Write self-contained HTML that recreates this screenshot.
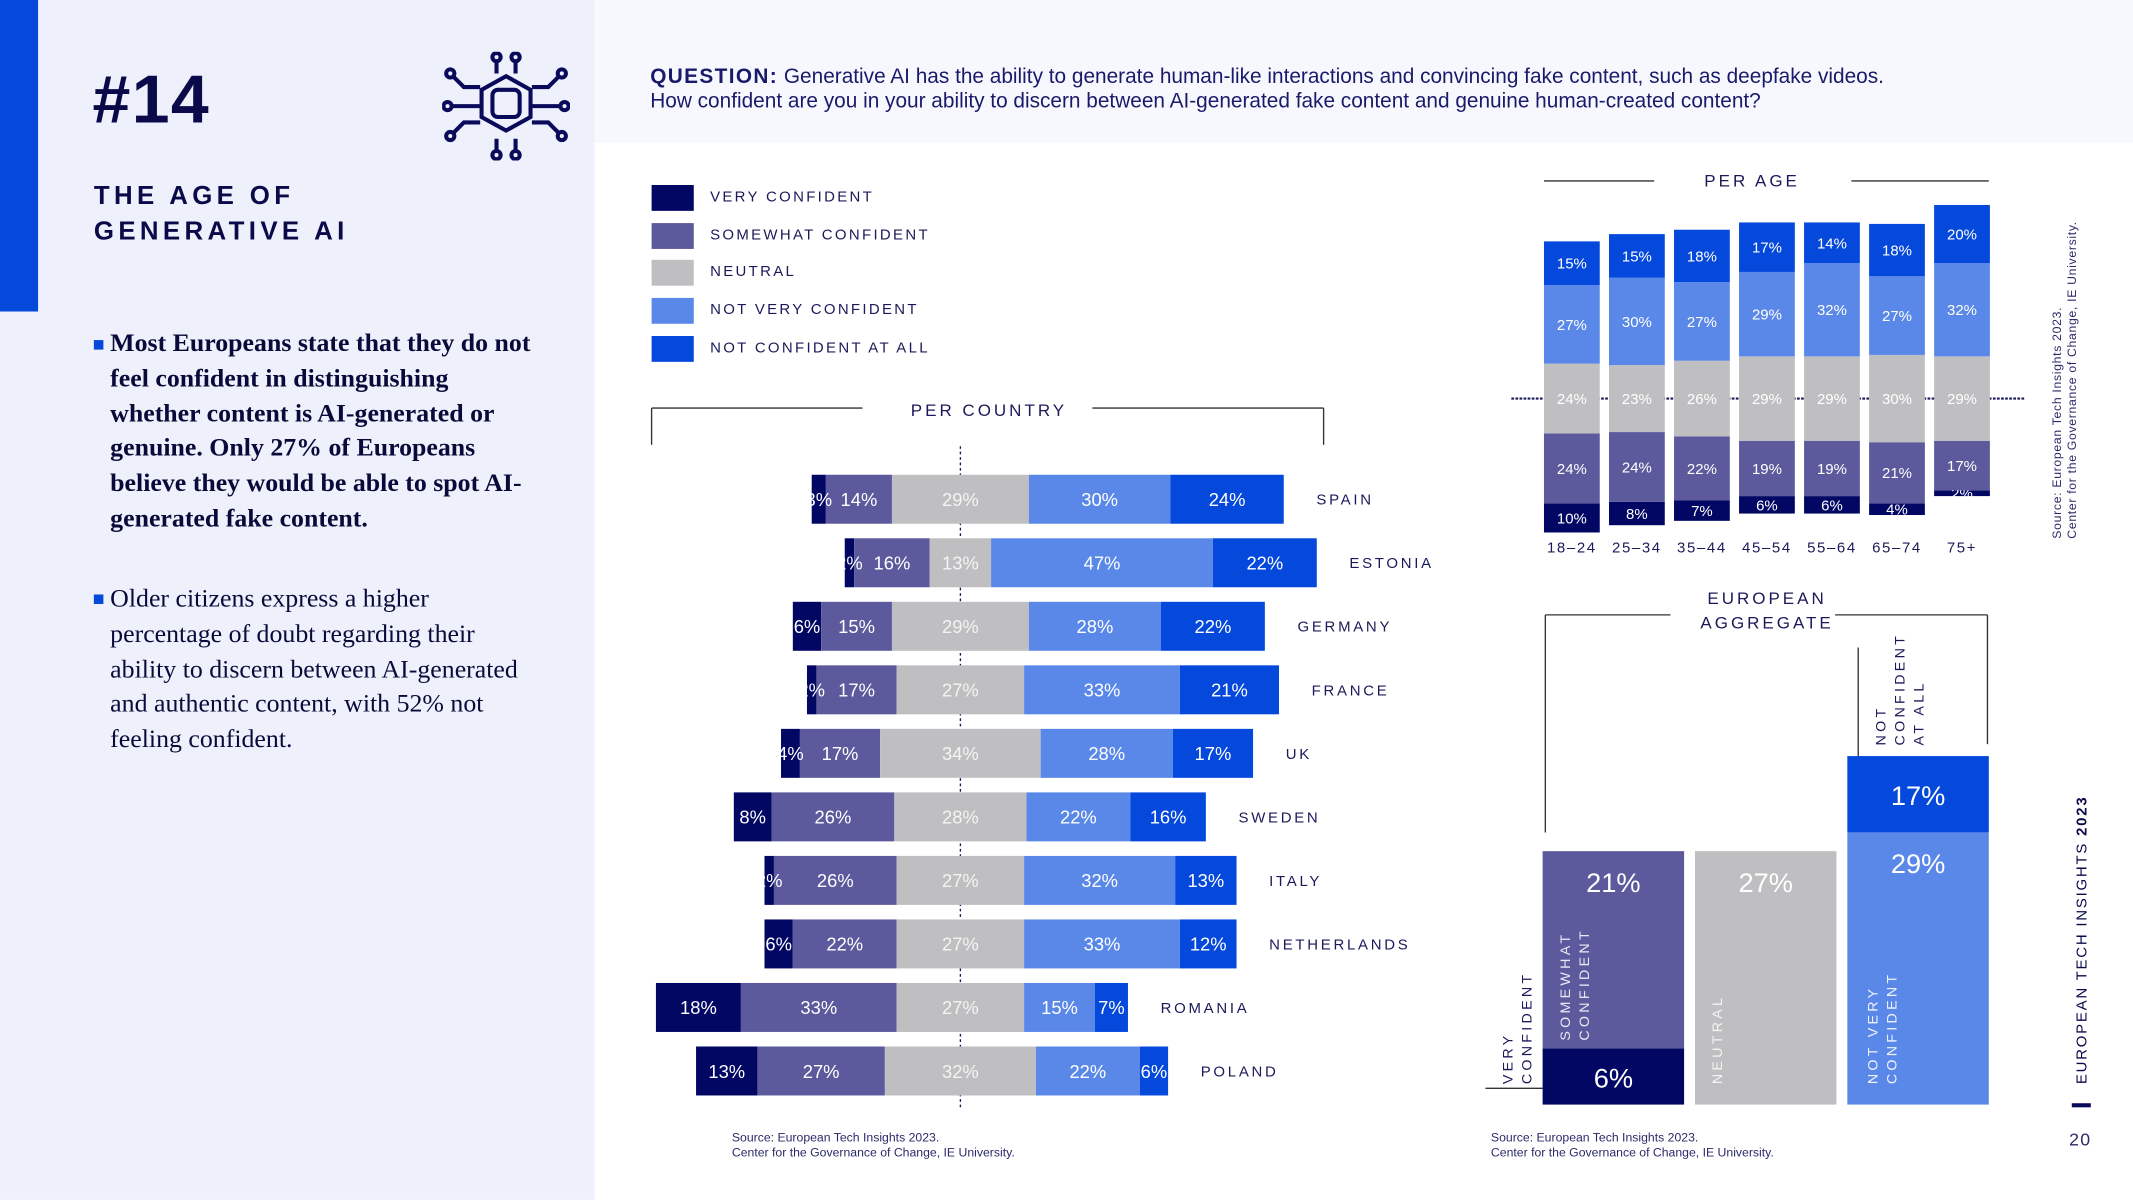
<!DOCTYPE html>
<html><head><meta charset="utf-8">
<style>
html,body{margin:0;padding:0;width:2133px;height:1200px;overflow:hidden;background:#fff}
#stage{position:absolute;left:0;top:0;width:1568px;height:882px;transform:scale(1.360332);transform-origin:0 0;font-family:"Liberation Sans",sans-serif;color:#1a1a5a}
.abs{position:absolute}
.lbl{position:absolute;font-size:11px;letter-spacing:1.7px;color:#1a1a5a;white-space:nowrap}
.rot{position:absolute;transform-origin:0 0;transform:rotate(-90deg);white-space:nowrap;font-size:11px;letter-spacing:2.4px;line-height:14px}
</style></head><body>
<div id="stage">
  <div class="abs" style="left:0;top:0;width:437px;height:882px;background:#eef1fb"></div>
  <div class="abs" style="left:0;top:0;width:28px;height:229px;background:#0448dc"></div>
  <div class="abs" style="left:437px;top:0;width:1131px;height:105px;background:#f6f8fe"></div>
  <div class="abs" style="left:68px;top:44px;font-size:50px;font-weight:900;color:#0a0a4a;letter-spacing:1px">#14</div>
  <div class="abs" style="left:69px;top:132px;font-size:19px;font-weight:900;letter-spacing:3.2px;line-height:26px;color:#0a0a4a">THE AGE OF<br>GENERATIVE AI</div>
  <svg class="abs" style="left:325px;top:38px" width="94" height="80" viewBox="0 0 94 80" fill="none" stroke="#0a0a5a" stroke-width="3">
    <path d="M47 12 l18 10 v20 l-18 10 l-18-10 v-20z" transform="translate(0,6)"/>
    <rect x="37" y="28" width="20" height="20" rx="4"/>
    <path d="M28 26 h-12 l-8-8 M28 40 h-22 M28 52 h-12 l-8 8 M66 26 h12 l8-8 M66 40 h22 M66 52 h12 l8 8 M40 16 v-10 M54 16 v-10 M40 64 v10 M54 64 v10"/>
    <circle cx="6" cy="16" r="3"/><circle cx="4" cy="40" r="3"/><circle cx="6" cy="62" r="3"/><circle cx="88" cy="16" r="3"/><circle cx="90" cy="40" r="3"/><circle cx="88" cy="62" r="3"/><circle cx="40" cy="4" r="3"/><circle cx="54" cy="4" r="3"/><circle cx="40" cy="76" r="3"/><circle cx="54" cy="76" r="3"/>
  </svg>
  <div class="abs" style="left:81px;top:240px;width:318px;font-family:'Liberation Serif',serif;font-size:19px;font-weight:bold;line-height:25.8px;color:#0a0a3a">Most Europeans state that they do not feel confident in distinguishing whether content is AI-generated or genuine. Only 27% of Europeans believe they would be able to spot AI-generated fake content.</div>
  <div class="abs" style="left:69px;top:250px;width:7px;height:7px;background:#0448dc"></div>
  <div class="abs" style="left:81px;top:428px;width:300px;font-family:'Liberation Serif',serif;font-size:19px;line-height:25.8px;color:#0a0a3a">Older citizens express a higher percentage of doubt regarding their ability to discern between AI-generated and authentic content, with 52% not feeling confident.</div>
  <div class="abs" style="left:69px;top:437px;width:7px;height:7px;background:#0448dc"></div>
  <div class="abs" style="left:478px;top:48px;font-size:15.3px;line-height:18px;color:#1a1a6a"><b style="letter-spacing:1px">QUESTION:</b> Generative AI has the ability to generate human-like interactions and convincing fake content, such as deepfake videos.<br>How confident are you in your ability to discern between AI-generated fake content and genuine human-created content?</div>
  <div id="legend"></div>
  <svg id="chart" class="abs" style="left:0;top:0" width="1568" height="882"></svg>
  <div class="abs" style="left:538px;top:831px;font-size:9px;line-height:11px;color:#2a2a6a">Source: European Tech Insights 2023.<br>Center for the Governance of Change, IE University.</div>
  <div class="abs" style="left:1096px;top:831px;font-size:9px;line-height:11px;color:#2a2a6a">Source: European Tech Insights 2023.<br>Center for the Governance of Change, IE University.</div>
  <div class="rot" style="left:1507px;top:396px;font-size:9px;letter-spacing:0.5px;line-height:11px;color:#2a2a6a">Source: European Tech Insights 2023.<br>Center for the Governance of Change, IE University.</div>
  <div class="rot" style="left:1524px;top:797px;font-size:11px;letter-spacing:1.3px;color:#0a0a4a">EUROPEAN TECH INSIGHTS <b>2023</b></div>
  <div class="abs" style="left:1523px;top:811px;width:14px;height:3px;background:#0a0a5a"></div>
  <div class="abs" style="left:1521px;top:830px;font-size:13px;letter-spacing:1px;color:#2a2a6a">20</div>
</div>
<script>
const colors=['#020764','#5c5a9c','#bfbfc1','#5a88e8','#0448dc'];
const legendLabels=['VERY CONFIDENT','SOMEWHAT CONFIDENT','NEUTRAL','NOT VERY CONFIDENT','NOT CONFIDENT AT ALL'];
const countries=['SPAIN','ESTONIA','GERMANY','FRANCE','UK','SWEDEN','ITALY','NETHERLANDS','ROMANIA','POLAND'];
const cVery=[3,2,6,2,4,8,2,6,18,13];
const cSomewhat=[14,16,15,17,17,26,26,22,33,27];
const cNeutral=[29,13,29,27,34,28,27,27,27,32];
const cNotVery=[30,47,28,33,28,22,32,33,15,22];
const cNotAll=[24,22,22,21,17,16,13,12,7,6];
const ages=['18–24','25–34','35–44','45–54','55–64','65–74','75+'];
const aVery=[10,8,7,6,6,4,2];
const aSomewhat=[24,24,22,19,19,21,17];
const aNeutral=[24,23,26,29,29,30,29];
const aNotVery=[27,30,27,29,32,27,32];
const aNotAll=[15,15,18,17,14,18,20];
const eVery=6, eSomewhat=21, eNeutral=27, eNotVery=29, eNotAll=17;

const NS='http://www.w3.org/2000/svg';
const svg=document.getElementById('chart');
function mk(tag,attrs,parent){const e=document.createElementNS(NS,tag);for(const k in attrs)e.setAttribute(k,attrs[k]);(parent||svg).appendChild(e);return e;}
function txt(x,y,s,size,fill,anchor,name,extra){const t=mk('text',Object.assign({x:x,y:y,'font-size':size,fill:fill,'text-anchor':anchor||'middle','font-family':'Liberation Sans, sans-serif'},extra||{}));t.textContent=s;


return t;}

const lg=document.getElementById('legend');
legendLabels.forEach((l,i)=>{
  const sw=document.createElement('div');sw.className='abs';
  
  
  sw.style.cssText='left:479px;top:'+(136+i*27.7)+'px;width:31px;height:19px;background:'+colors[i];
  lg.appendChild(sw);
  const t=document.createElement('div');t.className='lbl';
  
  
  t.style.left='522px';t.style.top=(139+i*27.7)+'px';t.textContent=legendLabels[i];
  lg.appendChild(t);
});

function line(x1,y1,x2,y2,name,st){const l=mk('line',Object.assign({x1:x1,y1:y1,x2:x2,y2:y2,stroke:'#333',"stroke-width":1},st||{}));

return l;}

const cx0=706, ck=3.47, rowY0=349, rowStep=46.7, rowH=36;
function cxScale(v){return v*ck;}
line(479,300,634,300,'country-bracket-left');line(479,300,479,327,'country-bracket-left-tick');
line(803,300,973,300,'country-bracket-right');line(973,300,973,327,'country-bracket-right-tick');
txt(727,306,'PER COUNTRY',12.5,'#1a1a5a','middle','country-chart-title',{'letter-spacing':'2.2'});
line(cx0,328,cx0,814,'country-center-line',{'stroke-dasharray':'2 2',stroke:'#1a1a5a'});
countries.forEach((c,i)=>{
  const vals=[cVery[i],cSomewhat[i],cNeutral[i],cNotVery[i],cNotAll[i]];
  const y=rowY0+i*rowStep;
  let x=cx0-cxScale(vals[2]/2+vals[1]+vals[0]);
  const labs=[];
  vals.forEach((v,j)=>{
    const w=cxScale(v);
    const r=mk('rect',{x:x,y:y,width:w,height:rowH,fill:colors[j]});
    
    
    labs.push([x+w/2,v,j]);
    x+=w;
  });
  labs.forEach(([lx,v,j])=>txt(lx,y+rowH/2+5,v+'%',13.5,j==2?'#f4f4f4':'#fff','middle','value-'+c.toLowerCase()+'-'+j));
  txt(x+24,y+rowH/2+4,c,11,'#1a1a5a','start','country-label-'+c.toLowerCase(),{'letter-spacing':'2'});
});

const ax0=1135, aStep=47.8, aW=41, aMid=293, ak=2.14;
line(1135,133,1216,133,'age-bracket-left');line(1361,133,1462,133,'age-bracket-right');
txt(1288,137,'PER AGE',12.5,'#1a1a5a','middle','age-chart-title',{'letter-spacing':'2.2'});
line(1111,293,1488,293,'age-midline',{'stroke-dasharray':'2 1',stroke:'#1a1a5a','stroke-width':1.5});
ages.forEach((a,i)=>{
  const vals=[aVery[i],aSomewhat[i],aNeutral[i],aNotVery[i],aNotAll[i]];
  const x=ax0+i*aStep;
  let y=aMid+(vals[2]/2+vals[1]+vals[0])*ak;
  vals.forEach((v,j)=>{
    const h=v*ak; y-=h;
    const r=mk('rect',{x:x,y:y,width:aW,height:h,fill:colors[j]});
    
    
    txt(x+aW/2,y+h/2+4,v+'%',11,'#fff','middle','age-value-'+i+'-'+j);
  });
  txt(x+aW/2,406,a,11,'#1a1a5a','middle','age-label-'+i,{'letter-spacing':'1.2'});
});

const eBase=812, ek=6.9, ekTop=3.3;
line(1136,452,1228,452,'agg-bracket-left');line(1136,452,1136,612,'agg-bracket-left-tick');
line(1349,452,1461,452,'agg-bracket-right');line(1461,452,1461,547,'agg-bracket-right-tick');
txt(1299,444,'EUROPEAN',12.5,'#1a1a5a','middle','agg-title-1',{'letter-spacing':'2.2'});
txt(1299,462,'AGGREGATE',12.5,'#1a1a5a','middle','agg-title-2',{'letter-spacing':'2.2'});
function eBar(x,w,yb,h,col,label,ty,name){
  const r=mk('rect',{x:x,y:yb-h,width:w,height:h,fill:col});
  
  
  txt(x+w/2,ty,label,20,'#fff','middle',name+'-value');
}
const hV=eVery*ek, hS=eSomewhat*ek, hN=eNeutral*ek, hNV=eNotVery*ek, hNA=eNotAll*ekTop;
eBar(1134,104,eBase,hV,colors[0],eVery+'%',eBase-hV/2+8,'agg-very');
eBar(1134,104,eBase-hV,hS,colors[1],eSomewhat+'%',eBase-hV-hS+30,'agg-somewhat');
eBar(1246,104,eBase,hN,colors[2],eNeutral+'%',eBase-hN+30,'agg-neutral');
eBar(1358,104,eBase,hNV,colors[3],eNotVery+'%',eBase-hNV+30,'agg-notvery');
eBar(1358,104,eBase-hNV,hNA,colors[4],eNotAll+'%',eBase-hNV-hNA/2+8,'agg-notall');
line(1092,800,1134,800,'agg-very-leader');
line(1366,476,1366,556,'agg-notall-leader');
function rlab(x,yb,lines,col,name){
  lines.forEach((s,k)=>{txt(0,0,s,10.5,col,'start',name+'-'+k,{transform:'translate('+(x+k*14)+','+yb+') rotate(-90)','letter-spacing':'2.4'});});
}
rlab(1112,797,['VERY','CONFIDENT'],'#1a1a5a','agg-label-very');
rlab(1154,765,['SOMEWHAT','CONFIDENT'],'#e8e8f4','agg-label-somewhat');
rlab(1266,797,['NEUTRAL'],'#f4f4f4','agg-label-neutral');
rlab(1380,797,['NOT VERY','CONFIDENT'],'#eef2ff','agg-label-notvery');
rlab(1386,548,['NOT','CONFIDENT','AT ALL'],'#1a1a5a','agg-label-notall');
</script>
</body></html>
